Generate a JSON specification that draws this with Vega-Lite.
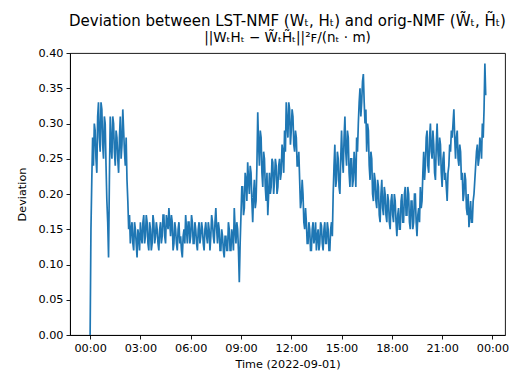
{
  "$schema": "https://vega.github.io/schema/vega-lite/v6.json",
  "width": 435,
  "height": 282,
  "autosize": "none",
  "padding": {"left": 70, "top": 53, "right": 13, "bottom": 41},
  "background": "white",
  "config": {
    "font": "DejaVu Sans",
    "view": {"stroke": "black", "strokeWidth": 0.9},
    "axis": {
      "grid": false,
      "domainColor": "black",
      "domainWidth": 0.9,
      "tickColor": "black",
      "tickWidth": 0.9,
      "tickSize": 4,
      "labelColor": "black",
      "labelFont": "DejaVu Sans",
      "labelFontSize": 11.25,
      "titleColor": "black",
      "titleFont": "DejaVu Sans",
      "titleFontSize": 11.25,
      "titleFontWeight": "normal"
    }
  },
  "title": {
    "text": "Deviation between LST-NMF (Wₜ, Hₜ) and orig-NMF (W̃ₜ, H̃ₜ)",
    "subtitle": "||WₜHₜ − W̃ₜH̃ₜ||²ꜰ/(nₜ · m)",
    "font": "DejaVu Sans",
    "fontSize": 15,
    "fontWeight": "normal",
    "color": "black",
    "subtitleFont": "DejaVu Sans",
    "subtitleFontSize": 13.5,
    "subtitleColor": "black",
    "subtitlePadding": 2,
    "anchor": "middle",
    "offset": 3
  },
  "data": {
    "values": [
      {"t":"2022-09-01T00:00","v":0.0},{"t":"2022-09-01T00:03","v":0.15},{"t":"2022-09-01T00:06","v":0.22},{"t":"2022-09-01T00:09","v":0.28},{"t":"2022-09-01T00:12","v":0.24},{"t":"2022-09-01T00:15","v":0.30},{"t":"2022-09-01T00:18","v":0.29},{"t":"2022-09-01T00:21","v":0.25},{"t":"2022-09-01T00:24","v":0.23},{"t":"2022-09-01T00:27","v":0.31},{"t":"2022-09-01T00:30","v":0.33},{"t":"2022-09-01T00:33","v":0.28},{"t":"2022-09-01T00:36","v":0.26},{"t":"2022-09-01T00:39","v":0.33},{"t":"2022-09-01T00:42","v":0.32},{"t":"2022-09-01T00:45","v":0.27},{"t":"2022-09-01T00:48","v":0.25},{"t":"2022-09-01T00:51","v":0.31},{"t":"2022-09-01T00:54","v":0.30},{"t":"2022-09-01T00:57","v":0.24},
      {"t":"2022-09-01T01:00","v":0.19},{"t":"2022-09-01T01:03","v":0.16},{"t":"2022-09-01T01:06","v":0.11},{"t":"2022-09-01T01:09","v":0.22},{"t":"2022-09-01T01:12","v":0.31},{"t":"2022-09-01T01:15","v":0.27},{"t":"2022-09-01T01:18","v":0.25},{"t":"2022-09-01T01:21","v":0.31},{"t":"2022-09-01T01:24","v":0.30},{"t":"2022-09-01T01:27","v":0.26},{"t":"2022-09-01T01:30","v":0.24},{"t":"2022-09-01T01:33","v":0.29},{"t":"2022-09-01T01:36","v":0.28},{"t":"2022-09-01T01:39","v":0.25},{"t":"2022-09-01T01:42","v":0.23},{"t":"2022-09-01T01:45","v":0.28},{"t":"2022-09-01T01:48","v":0.31},{"t":"2022-09-01T01:51","v":0.25},{"t":"2022-09-01T01:54","v":0.27},{"t":"2022-09-01T01:57","v":0.32},
      {"t":"2022-09-01T02:00","v":0.29},{"t":"2022-09-01T02:03","v":0.26},{"t":"2022-09-01T02:06","v":0.24},{"t":"2022-09-01T02:09","v":0.28},{"t":"2022-09-01T02:12","v":0.22},{"t":"2022-09-01T02:15","v":0.19},{"t":"2022-09-01T02:18","v":0.15},{"t":"2022-09-01T02:21","v":0.17},{"t":"2022-09-01T02:24","v":0.13},{"t":"2022-09-01T02:27","v":0.15},{"t":"2022-09-01T02:30","v":0.16},{"t":"2022-09-01T02:33","v":0.13},{"t":"2022-09-01T02:36","v":0.12},{"t":"2022-09-01T02:39","v":0.16},{"t":"2022-09-01T02:42","v":0.15},{"t":"2022-09-01T02:45","v":0.13},{"t":"2022-09-01T02:48","v":0.11},{"t":"2022-09-01T02:51","v":0.15},{"t":"2022-09-01T02:54","v":0.14},{"t":"2022-09-01T02:57","v":0.12},
      {"t":"2022-09-01T03:00","v":0.16},{"t":"2022-09-01T03:03","v":0.14},{"t":"2022-09-01T03:06","v":0.13},{"t":"2022-09-01T03:09","v":0.16},{"t":"2022-09-01T03:12","v":0.17},{"t":"2022-09-01T03:15","v":0.13},{"t":"2022-09-01T03:18","v":0.14},{"t":"2022-09-01T03:21","v":0.17},{"t":"2022-09-01T03:24","v":0.16},{"t":"2022-09-01T03:27","v":0.13},{"t":"2022-09-01T03:30","v":0.12},{"t":"2022-09-01T03:33","v":0.16},{"t":"2022-09-01T03:36","v":0.15},{"t":"2022-09-01T03:39","v":0.12},{"t":"2022-09-01T03:42","v":0.13},{"t":"2022-09-01T03:45","v":0.17},{"t":"2022-09-01T03:48","v":0.16},{"t":"2022-09-01T03:51","v":0.13},{"t":"2022-09-01T03:54","v":0.14},{"t":"2022-09-01T03:57","v":0.16},
      {"t":"2022-09-01T04:00","v":0.15},{"t":"2022-09-01T04:03","v":0.13},{"t":"2022-09-01T04:06","v":0.12},{"t":"2022-09-01T04:09","v":0.15},{"t":"2022-09-01T04:12","v":0.16},{"t":"2022-09-01T04:15","v":0.13},{"t":"2022-09-01T04:18","v":0.14},{"t":"2022-09-01T04:21","v":0.17},{"t":"2022-09-01T04:24","v":0.17},{"t":"2022-09-01T04:27","v":0.14},{"t":"2022-09-01T04:30","v":0.13},{"t":"2022-09-01T04:33","v":0.17},{"t":"2022-09-01T04:36","v":0.16},{"t":"2022-09-01T04:39","v":0.15},{"t":"2022-09-01T04:42","v":0.18},{"t":"2022-09-01T04:45","v":0.16},{"t":"2022-09-01T04:48","v":0.14},{"t":"2022-09-01T04:51","v":0.17},{"t":"2022-09-01T04:54","v":0.16},{"t":"2022-09-01T04:57","v":0.12},
      {"t":"2022-09-01T05:00","v":0.13},{"t":"2022-09-01T05:03","v":0.16},{"t":"2022-09-01T05:06","v":0.15},{"t":"2022-09-01T05:09","v":0.13},{"t":"2022-09-01T05:12","v":0.12},{"t":"2022-09-01T05:15","v":0.15},{"t":"2022-09-01T05:18","v":0.16},{"t":"2022-09-01T05:21","v":0.13},{"t":"2022-09-01T05:24","v":0.14},{"t":"2022-09-01T05:27","v":0.12},{"t":"2022-09-01T05:30","v":0.11},{"t":"2022-09-01T05:33","v":0.14},{"t":"2022-09-01T05:36","v":0.15},{"t":"2022-09-01T05:39","v":0.13},{"t":"2022-09-01T05:42","v":0.17},{"t":"2022-09-01T05:45","v":0.15},{"t":"2022-09-01T05:48","v":0.13},{"t":"2022-09-01T05:51","v":0.16},{"t":"2022-09-01T05:54","v":0.16},{"t":"2022-09-01T05:57","v":0.13},
      {"t":"2022-09-01T06:00","v":0.14},{"t":"2022-09-01T06:03","v":0.17},{"t":"2022-09-01T06:06","v":0.16},{"t":"2022-09-01T06:09","v":0.13},{"t":"2022-09-01T06:12","v":0.13},{"t":"2022-09-01T06:15","v":0.16},{"t":"2022-09-01T06:18","v":0.15},{"t":"2022-09-01T06:21","v":0.13},{"t":"2022-09-01T06:24","v":0.12},{"t":"2022-09-01T06:27","v":0.15},{"t":"2022-09-01T06:30","v":0.16},{"t":"2022-09-01T06:33","v":0.13},{"t":"2022-09-01T06:36","v":0.14},{"t":"2022-09-01T06:39","v":0.16},{"t":"2022-09-01T06:42","v":0.15},{"t":"2022-09-01T06:45","v":0.13},{"t":"2022-09-01T06:48","v":0.12},{"t":"2022-09-01T06:51","v":0.15},{"t":"2022-09-01T06:54","v":0.16},{"t":"2022-09-01T06:57","v":0.14},
      {"t":"2022-09-01T07:00","v":0.13},{"t":"2022-09-01T07:03","v":0.16},{"t":"2022-09-01T07:06","v":0.15},{"t":"2022-09-01T07:09","v":0.12},{"t":"2022-09-01T07:12","v":0.14},{"t":"2022-09-01T07:15","v":0.17},{"t":"2022-09-01T07:18","v":0.16},{"t":"2022-09-01T07:21","v":0.14},{"t":"2022-09-01T07:24","v":0.13},{"t":"2022-09-01T07:27","v":0.16},{"t":"2022-09-01T07:30","v":0.18},{"t":"2022-09-01T07:33","v":0.15},{"t":"2022-09-01T07:36","v":0.13},{"t":"2022-09-01T07:39","v":0.16},{"t":"2022-09-01T07:42","v":0.15},{"t":"2022-09-01T07:45","v":0.12},{"t":"2022-09-01T07:48","v":0.12},{"t":"2022-09-01T07:51","v":0.15},{"t":"2022-09-01T07:54","v":0.14},{"t":"2022-09-01T07:57","v":0.12},
      {"t":"2022-09-01T08:00","v":0.11},{"t":"2022-09-01T08:03","v":0.14},{"t":"2022-09-01T08:06","v":0.14},{"t":"2022-09-01T08:09","v":0.12},{"t":"2022-09-01T08:12","v":0.12},{"t":"2022-09-01T08:15","v":0.16},{"t":"2022-09-01T08:18","v":0.15},{"t":"2022-09-01T08:21","v":0.12},{"t":"2022-09-01T08:24","v":0.12},{"t":"2022-09-01T08:27","v":0.15},{"t":"2022-09-01T08:30","v":0.14},{"t":"2022-09-01T08:33","v":0.12},{"t":"2022-09-01T08:36","v":0.18},{"t":"2022-09-01T08:39","v":0.15},{"t":"2022-09-01T08:42","v":0.13},{"t":"2022-09-01T08:45","v":0.16},{"t":"2022-09-01T08:48","v":0.15},{"t":"2022-09-01T08:51","v":0.12},{"t":"2022-09-01T08:54","v":0.075},{"t":"2022-09-01T08:57","v":0.13},
      {"t":"2022-09-01T09:00","v":0.17},{"t":"2022-09-01T09:03","v":0.21},{"t":"2022-09-01T09:06","v":0.21},{"t":"2022-09-01T09:09","v":0.17},{"t":"2022-09-01T09:12","v":0.18},{"t":"2022-09-01T09:15","v":0.23},{"t":"2022-09-01T09:18","v":0.22},{"t":"2022-09-01T09:21","v":0.19},{"t":"2022-09-01T09:24","v":0.245},{"t":"2022-09-01T09:27","v":0.22},{"t":"2022-09-01T09:30","v":0.20},{"t":"2022-09-01T09:33","v":0.24},{"t":"2022-09-01T09:36","v":0.23},{"t":"2022-09-01T09:39","v":0.19},{"t":"2022-09-01T09:42","v":0.16},{"t":"2022-09-01T09:45","v":0.20},{"t":"2022-09-01T09:48","v":0.22},{"t":"2022-09-01T09:51","v":0.18},{"t":"2022-09-01T09:54","v":0.19},{"t":"2022-09-01T09:57","v":0.24},
      {"t":"2022-09-01T10:00","v":0.316},{"t":"2022-09-01T10:03","v":0.27},{"t":"2022-09-01T10:06","v":0.24},{"t":"2022-09-01T10:09","v":0.29},{"t":"2022-09-01T10:12","v":0.28},{"t":"2022-09-01T10:15","v":0.23},{"t":"2022-09-01T10:18","v":0.21},{"t":"2022-09-01T10:21","v":0.26},{"t":"2022-09-01T10:24","v":0.25},{"t":"2022-09-01T10:27","v":0.21},{"t":"2022-09-01T10:30","v":0.19},{"t":"2022-09-01T10:33","v":0.23},{"t":"2022-09-01T10:36","v":0.17},{"t":"2022-09-01T10:39","v":0.20},{"t":"2022-09-01T10:42","v":0.23},{"t":"2022-09-01T10:45","v":0.20},{"t":"2022-09-01T10:48","v":0.21},{"t":"2022-09-01T10:51","v":0.25},{"t":"2022-09-01T10:54","v":0.245},{"t":"2022-09-01T10:57","v":0.20},
      {"t":"2022-09-01T11:00","v":0.22},{"t":"2022-09-01T11:03","v":0.25},{"t":"2022-09-01T11:06","v":0.24},{"t":"2022-09-01T11:09","v":0.20},{"t":"2022-09-01T11:12","v":0.21},{"t":"2022-09-01T11:15","v":0.24},{"t":"2022-09-01T11:18","v":0.25},{"t":"2022-09-01T11:21","v":0.22},{"t":"2022-09-01T11:24","v":0.23},{"t":"2022-09-01T11:27","v":0.27},{"t":"2022-09-01T11:30","v":0.26},{"t":"2022-09-01T11:33","v":0.23},{"t":"2022-09-01T11:36","v":0.29},{"t":"2022-09-01T11:39","v":0.26},{"t":"2022-09-01T11:42","v":0.33},{"t":"2022-09-01T11:45","v":0.30},{"t":"2022-09-01T11:48","v":0.28},{"t":"2022-09-01T11:51","v":0.33},{"t":"2022-09-01T11:54","v":0.32},{"t":"2022-09-01T11:57","v":0.27},
      {"t":"2022-09-01T12:00","v":0.29},{"t":"2022-09-01T12:03","v":0.32},{"t":"2022-09-01T12:06","v":0.31},{"t":"2022-09-01T12:09","v":0.27},{"t":"2022-09-01T12:12","v":0.26},{"t":"2022-09-01T12:15","v":0.29},{"t":"2022-09-01T12:18","v":0.28},{"t":"2022-09-01T12:21","v":0.24},{"t":"2022-09-01T12:24","v":0.24},{"t":"2022-09-01T12:27","v":0.26},{"t":"2022-09-01T12:30","v":0.22},{"t":"2022-09-01T12:33","v":0.18},{"t":"2022-09-01T12:36","v":0.19},{"t":"2022-09-01T12:39","v":0.22},{"t":"2022-09-01T12:42","v":0.20},{"t":"2022-09-01T12:45","v":0.16},{"t":"2022-09-01T12:48","v":0.15},{"t":"2022-09-01T12:51","v":0.18},{"t":"2022-09-01T12:54","v":0.16},{"t":"2022-09-01T12:57","v":0.13},
      {"t":"2022-09-01T13:00","v":0.13},{"t":"2022-09-01T13:03","v":0.16},{"t":"2022-09-01T13:06","v":0.15},{"t":"2022-09-01T13:09","v":0.12},{"t":"2022-09-01T13:12","v":0.12},{"t":"2022-09-01T13:15","v":0.15},{"t":"2022-09-01T13:18","v":0.16},{"t":"2022-09-01T13:21","v":0.13},{"t":"2022-09-01T13:24","v":0.14},{"t":"2022-09-01T13:27","v":0.16},{"t":"2022-09-01T13:30","v":0.12},{"t":"2022-09-01T13:33","v":0.14},{"t":"2022-09-01T13:36","v":0.15},{"t":"2022-09-01T13:39","v":0.12},{"t":"2022-09-01T13:42","v":0.13},{"t":"2022-09-01T13:45","v":0.16},{"t":"2022-09-01T13:48","v":0.155},{"t":"2022-09-01T13:51","v":0.13},{"t":"2022-09-01T13:54","v":0.12},{"t":"2022-09-01T13:57","v":0.15},
      {"t":"2022-09-01T14:00","v":0.16},{"t":"2022-09-01T14:03","v":0.13},{"t":"2022-09-01T14:06","v":0.13},{"t":"2022-09-01T14:09","v":0.16},{"t":"2022-09-01T14:12","v":0.15},{"t":"2022-09-01T14:15","v":0.12},{"t":"2022-09-01T14:18","v":0.12},{"t":"2022-09-01T14:21","v":0.15},{"t":"2022-09-01T14:24","v":0.16},{"t":"2022-09-01T14:27","v":0.14},{"t":"2022-09-01T14:30","v":0.20},{"t":"2022-09-01T14:33","v":0.24},{"t":"2022-09-01T14:36","v":0.27},{"t":"2022-09-01T14:39","v":0.21},{"t":"2022-09-01T14:42","v":0.22},{"t":"2022-09-01T14:45","v":0.26},{"t":"2022-09-01T14:48","v":0.25},{"t":"2022-09-01T14:51","v":0.21},{"t":"2022-09-01T14:54","v":0.20},{"t":"2022-09-01T14:57","v":0.25},
      {"t":"2022-09-01T15:00","v":0.29},{"t":"2022-09-01T15:03","v":0.25},{"t":"2022-09-01T15:06","v":0.23},{"t":"2022-09-01T15:09","v":0.28},{"t":"2022-09-01T15:12","v":0.31},{"t":"2022-09-01T15:15","v":0.26},{"t":"2022-09-01T15:18","v":0.24},{"t":"2022-09-01T15:21","v":0.29},{"t":"2022-09-01T15:24","v":0.28},{"t":"2022-09-01T15:27","v":0.23},{"t":"2022-09-01T15:30","v":0.21},{"t":"2022-09-01T15:33","v":0.25},{"t":"2022-09-01T15:36","v":0.25},{"t":"2022-09-01T15:39","v":0.21},{"t":"2022-09-01T15:42","v":0.22},{"t":"2022-09-01T15:45","v":0.26},{"t":"2022-09-01T15:48","v":0.24},{"t":"2022-09-01T15:51","v":0.21},{"t":"2022-09-01T15:54","v":0.28},{"t":"2022-09-01T15:57","v":0.26},
      {"t":"2022-09-01T16:00","v":0.30},{"t":"2022-09-01T16:03","v":0.33},{"t":"2022-09-01T16:06","v":0.35},{"t":"2022-09-01T16:09","v":0.31},{"t":"2022-09-01T16:12","v":0.33},{"t":"2022-09-01T16:15","v":0.36},{"t":"2022-09-01T16:18","v":0.37},{"t":"2022-09-01T16:21","v":0.33},{"t":"2022-09-01T16:24","v":0.30},{"t":"2022-09-01T16:27","v":0.32},{"t":"2022-09-01T16:30","v":0.26},{"t":"2022-09-01T16:33","v":0.30},{"t":"2022-09-01T16:36","v":0.29},{"t":"2022-09-01T16:39","v":0.24},{"t":"2022-09-01T16:42","v":0.22},{"t":"2022-09-01T16:45","v":0.26},{"t":"2022-09-01T16:48","v":0.25},{"t":"2022-09-01T16:51","v":0.20},{"t":"2022-09-01T16:54","v":0.19},{"t":"2022-09-01T16:57","v":0.23},
      {"t":"2022-09-01T17:00","v":0.22},{"t":"2022-09-01T17:03","v":0.19},{"t":"2022-09-01T17:06","v":0.18},{"t":"2022-09-01T17:09","v":0.22},{"t":"2022-09-01T17:12","v":0.21},{"t":"2022-09-01T17:15","v":0.17},{"t":"2022-09-01T17:18","v":0.16},{"t":"2022-09-01T17:21","v":0.20},{"t":"2022-09-01T17:24","v":0.22},{"t":"2022-09-01T17:27","v":0.18},{"t":"2022-09-01T17:30","v":0.17},{"t":"2022-09-01T17:33","v":0.21},{"t":"2022-09-01T17:36","v":0.20},{"t":"2022-09-01T17:39","v":0.17},{"t":"2022-09-01T17:42","v":0.16},{"t":"2022-09-01T17:45","v":0.20},{"t":"2022-09-01T17:48","v":0.19},{"t":"2022-09-01T17:51","v":0.16},{"t":"2022-09-01T17:54","v":0.15},{"t":"2022-09-01T17:57","v":0.19},
      {"t":"2022-09-01T18:00","v":0.20},{"t":"2022-09-01T18:03","v":0.17},{"t":"2022-09-01T18:06","v":0.16},{"t":"2022-09-01T18:09","v":0.20},{"t":"2022-09-01T18:12","v":0.19},{"t":"2022-09-01T18:15","v":0.16},{"t":"2022-09-01T18:18","v":0.14},{"t":"2022-09-01T18:21","v":0.17},{"t":"2022-09-01T18:24","v":0.18},{"t":"2022-09-01T18:27","v":0.15},{"t":"2022-09-01T18:30","v":0.15},{"t":"2022-09-01T18:33","v":0.19},{"t":"2022-09-01T18:36","v":0.20},{"t":"2022-09-01T18:39","v":0.16},{"t":"2022-09-01T18:42","v":0.16},{"t":"2022-09-01T18:45","v":0.20},{"t":"2022-09-01T18:48","v":0.21},{"t":"2022-09-01T18:51","v":0.17},{"t":"2022-09-01T18:54","v":0.17},{"t":"2022-09-01T18:57","v":0.21},
      {"t":"2022-09-01T19:00","v":0.20},{"t":"2022-09-01T19:03","v":0.16},{"t":"2022-09-01T19:06","v":0.15},{"t":"2022-09-01T19:09","v":0.19},{"t":"2022-09-01T19:12","v":0.19},{"t":"2022-09-01T19:15","v":0.15},{"t":"2022-09-01T19:18","v":0.16},{"t":"2022-09-01T19:21","v":0.20},{"t":"2022-09-01T19:24","v":0.20},{"t":"2022-09-01T19:27","v":0.16},{"t":"2022-09-01T19:30","v":0.14},{"t":"2022-09-01T19:33","v":0.17},{"t":"2022-09-01T19:36","v":0.18},{"t":"2022-09-01T19:39","v":0.16},{"t":"2022-09-01T19:42","v":0.21},{"t":"2022-09-01T19:45","v":0.18},{"t":"2022-09-01T19:48","v":0.19},{"t":"2022-09-01T19:51","v":0.23},{"t":"2022-09-01T19:54","v":0.26},{"t":"2022-09-01T19:57","v":0.22},
      {"t":"2022-09-01T20:00","v":0.24},{"t":"2022-09-01T20:03","v":0.28},{"t":"2022-09-01T20:06","v":0.29},{"t":"2022-09-01T20:09","v":0.24},{"t":"2022-09-01T20:12","v":0.23},{"t":"2022-09-01T20:15","v":0.28},{"t":"2022-09-01T20:18","v":0.30},{"t":"2022-09-01T20:21","v":0.26},{"t":"2022-09-01T20:24","v":0.25},{"t":"2022-09-01T20:27","v":0.29},{"t":"2022-09-01T20:30","v":0.27},{"t":"2022-09-01T20:33","v":0.23},{"t":"2022-09-01T20:36","v":0.22},{"t":"2022-09-01T20:39","v":0.27},{"t":"2022-09-01T20:42","v":0.30},{"t":"2022-09-01T20:45","v":0.26},{"t":"2022-09-01T20:48","v":0.24},{"t":"2022-09-01T20:51","v":0.28},{"t":"2022-09-01T20:54","v":0.27},{"t":"2022-09-01T20:57","v":0.23},
      {"t":"2022-09-01T21:00","v":0.21},{"t":"2022-09-01T21:03","v":0.25},{"t":"2022-09-01T21:06","v":0.26},{"t":"2022-09-01T21:09","v":0.22},{"t":"2022-09-01T21:12","v":0.23},{"t":"2022-09-01T21:15","v":0.21},{"t":"2022-09-01T21:18","v":0.19},{"t":"2022-09-01T21:21","v":0.23},{"t":"2022-09-01T21:24","v":0.24},{"t":"2022-09-01T21:27","v":0.27},{"t":"2022-09-01T21:30","v":0.26},{"t":"2022-09-01T21:33","v":0.29},{"t":"2022-09-01T21:36","v":0.28},{"t":"2022-09-01T21:39","v":0.30},{"t":"2022-09-01T21:42","v":0.32},{"t":"2022-09-01T21:45","v":0.28},{"t":"2022-09-01T21:48","v":0.25},{"t":"2022-09-01T21:51","v":0.28},{"t":"2022-09-01T21:54","v":0.29},{"t":"2022-09-01T21:57","v":0.25},
      {"t":"2022-09-01T22:00","v":0.24},{"t":"2022-09-01T22:03","v":0.27},{"t":"2022-09-01T22:06","v":0.26},{"t":"2022-09-01T22:09","v":0.22},{"t":"2022-09-01T22:12","v":0.23},{"t":"2022-09-01T22:15","v":0.19},{"t":"2022-09-01T22:18","v":0.20},{"t":"2022-09-01T22:21","v":0.23},{"t":"2022-09-01T22:24","v":0.22},{"t":"2022-09-01T22:27","v":0.18},{"t":"2022-09-01T22:30","v":0.17},{"t":"2022-09-01T22:33","v":0.20},{"t":"2022-09-01T22:36","v":0.153},{"t":"2022-09-01T22:39","v":0.17},{"t":"2022-09-01T22:42","v":0.19},{"t":"2022-09-01T22:45","v":0.16},{"t":"2022-09-01T22:48","v":0.16},{"t":"2022-09-01T22:51","v":0.19},{"t":"2022-09-01T22:54","v":0.20},{"t":"2022-09-01T22:57","v":0.22},
      {"t":"2022-09-01T23:00","v":0.24},{"t":"2022-09-01T23:03","v":0.26},{"t":"2022-09-01T23:06","v":0.27},{"t":"2022-09-01T23:09","v":0.24},{"t":"2022-09-01T23:12","v":0.25},{"t":"2022-09-01T23:15","v":0.28},{"t":"2022-09-01T23:18","v":0.27},{"t":"2022-09-01T23:21","v":0.25},{"t":"2022-09-01T23:24","v":0.30},{"t":"2022-09-01T23:27","v":0.28},{"t":"2022-09-01T23:30","v":0.32},{"t":"2022-09-01T23:33","v":0.385},{"t":"2022-09-01T23:36","v":0.34}
    ]
  },
  "mark": {"type": "line", "color": "#1f77b4", "strokeWidth": 1.7, "clip": true},
  "encoding": {
    "x": {
      "field": "t",
      "type": "temporal",
      "title": "Time (2022-09-01)",
      "scale": {
        "domain": [
          {"year": 2022, "month": 8, "date": 31, "hours": 22, "minutes": 48},
          {"year": 2022, "month": 9, "date": 2, "hours": 0, "minutes": 45}
        ]
      },
      "axis": {
        "format": "%H:%M",
        "labelFlush": false,
        "labelOverlap": false,
        "labelPadding": 3,
        "titlePadding": 5,
        "values": [
          {"year": 2022, "month": 9, "date": 1, "hours": 0},
          {"year": 2022, "month": 9, "date": 1, "hours": 3},
          {"year": 2022, "month": 9, "date": 1, "hours": 6},
          {"year": 2022, "month": 9, "date": 1, "hours": 9},
          {"year": 2022, "month": 9, "date": 1, "hours": 12},
          {"year": 2022, "month": 9, "date": 1, "hours": 15},
          {"year": 2022, "month": 9, "date": 1, "hours": 18},
          {"year": 2022, "month": 9, "date": 1, "hours": 21},
          {"year": 2022, "month": 9, "date": 2, "hours": 0}
        ]
      }
    },
    "y": {
      "field": "v",
      "type": "quantitative",
      "title": "Deviation",
      "scale": {"domain": [0, 0.4], "nice": false, "zero": false},
      "axis": {
        "format": ".2f",
        "values": [0, 0.05, 0.1, 0.15, 0.2, 0.25, 0.3, 0.35, 0.4],
        "labelPadding": 3,
        "titlePadding": 10,
        "labelFlush": false
      }
    }
  }
}
